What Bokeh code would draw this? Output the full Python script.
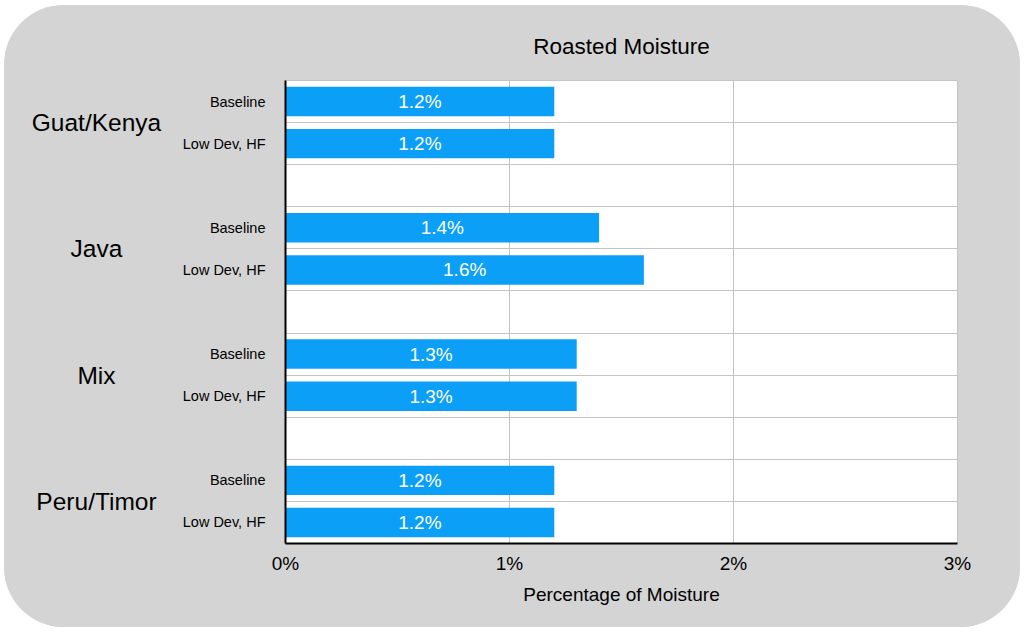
from bokeh.plotting import figure
from bokeh.layouts import row
from bokeh.models import Range1d, FixedTicker, ColumnDataSource
from bokeh.core.properties import value
from bokeh.embed import file_html
from bokeh.resources import INLINE

groups = ["Guat/Kenya", "Java", "Mix", "Peru/Timor"]
conditions = ["Baseline", "Low Dev, HF"]
baseline = [1.2, 1.4, 1.3, 1.2]
low_dev_hf = [1.2, 1.6, 1.3, 1.2]
x_ticks = [0, 1, 2, 3]
x_tick_labels = ["0%", "1%", "2%", "3%"]

FONT = "Liberation Sans"
BAR = "#0b9ff7"
GRID = "#c4c4c4"
GRAY = "#d4d4d4"
LEFT_W = 170

series = [baseline, low_dev_hf]
n_rows = len(groups) * 3 - 1
ys, vals, txt = [], [], []
for g in range(len(groups)):
    for c in range(len(conditions)):
        ys.append(g * 3 + c + 0.5)
        vals.append(series[c][g])
        txt.append(f"{series[c][g]}%")
src = ColumnDataSource(dict(y=ys, v=vals, half=[v / 2 for v in vals], t=txt))
grp_src = ColumnDataSource(dict(y=[g * 3 + 1 for g in range(len(groups))], t=groups))

yr = Range1d(n_rows, 0)

# left strip carrying the group names
left = figure(width=LEFT_W, height=622, x_range=Range1d(0, LEFT_W), y_range=yr,
              x_axis_location=None, y_axis_location=None, output_backend="svg",
              toolbar_location=None, min_border_left=0, min_border_right=0,
              min_border_top=75, min_border_bottom=84, background_fill_color=GRAY,
              border_fill_color=GRAY, outline_line_color=None)
left.grid.grid_line_color = None
left.text(x=92, y="y", text="t", source=grp_src, text_align="center", text_baseline="middle",
          text_font=value(FONT), text_font_size="24.5px", text_color="black")

p = figure(width=1016 - LEFT_W, height=622, x_range=Range1d(0, 3), y_range=yr,
           output_backend="svg", toolbar_location=None,
           min_border_left=281 - LEFT_W, min_border_right=63, min_border_top=75, min_border_bottom=84,
           border_fill_color=GRAY, background_fill_color="white",
           outline_line_color=GRID, title="Roasted Moisture")

p.title.align = "center"
p.title.text_font = FONT
p.title.text_font_size = "22.5px"
p.title.text_font_style = "normal"
p.title.text_color = "black"
p.title.standoff = 43

p.hbar(y="y", left=0, right="v", height=0.7, source=src, fill_color=BAR, line_color=None)
p.text(x="half", y="y", text="t", source=src, text_color="white", text_align="center",
       text_baseline="middle", text_font=value(FONT), text_font_size="19px")

# x axis
p.xaxis.ticker = FixedTicker(ticks=x_ticks)
p.xaxis.major_label_overrides = {t: l for t, l in zip(x_ticks, x_tick_labels)}
p.xaxis.axis_label = "Percentage of Moisture"
p.xaxis.axis_label_text_font = FONT
p.xaxis.axis_label_text_font_size = "19px"
p.xaxis.axis_label_text_font_style = "normal"
p.xaxis.axis_label_text_color = "black"
p.xaxis.axis_label_standoff = 7
p.xaxis.major_label_text_font = FONT
p.xaxis.major_label_text_font_size = "19px"
p.xaxis.major_label_text_color = "black"
p.xaxis.major_label_standoff = 3
p.xaxis.major_tick_line_color = None
p.xaxis.minor_tick_line_color = None
p.xaxis.axis_line_color = "black"
p.xaxis.axis_line_width = 2

# y axis
p.yaxis.ticker = FixedTicker(ticks=ys)
p.yaxis.major_label_overrides = {y: conditions[i % 2] for i, y in enumerate(ys)}
p.yaxis.major_label_text_font = FONT
p.yaxis.major_label_text_font_size = "14.5px"
p.yaxis.major_label_text_color = "black"
p.yaxis.major_label_standoff = 14
p.yaxis.major_tick_line_color = None
p.yaxis.minor_tick_line_color = None
p.yaxis.axis_line_color = "black"
p.yaxis.axis_line_width = 2

p.ygrid.ticker = FixedTicker(ticks=list(range(n_rows + 1)))
p.ygrid.grid_line_color = GRID
p.xgrid.grid_line_color = GRID

lay = row(left, p, spacing=0)
lay.styles = {"border-radius": "60px", "overflow": "hidden", "margin-left": "4px",
              "margin-top": "5px", "background-color": GRAY}

open("out.html", "w").write(file_html(lay, INLINE))
